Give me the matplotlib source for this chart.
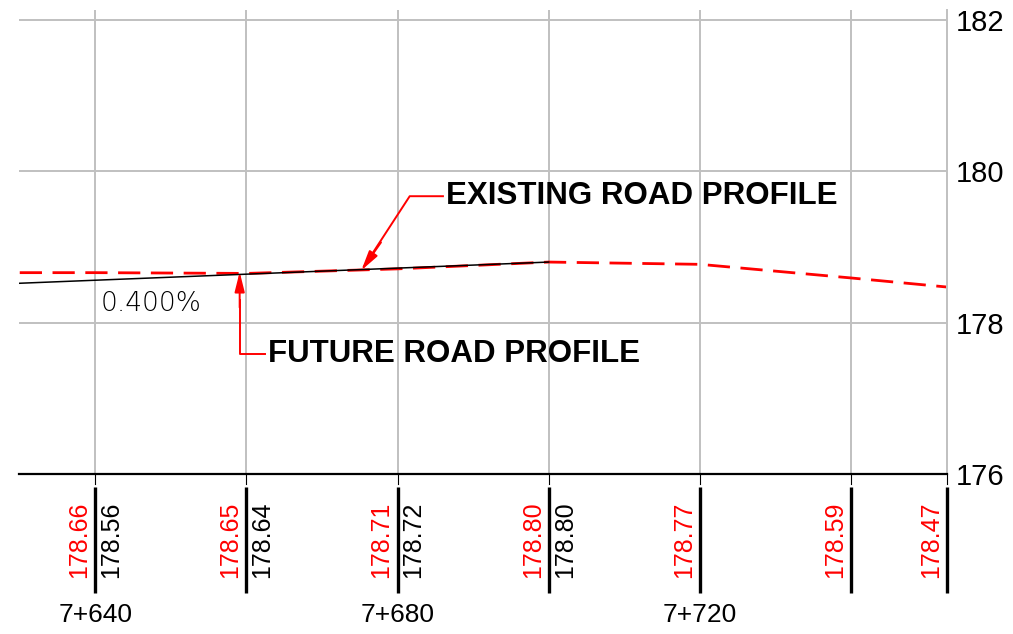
import matplotlib
matplotlib.use("Agg")
import matplotlib.pyplot as plt
import matplotlib.transforms as mtransforms

plt.rcParams['font.family'] = ['Liberation Sans', 'DejaVu Sans']

# stations (chainage in m) and elevations
ex_station = [7630, 7640, 7660, 7680, 7700, 7720, 7740, 7752.7]
ex_elev = [178.66, 178.66, 178.65, 178.71, 178.80, 178.77, 178.59, 178.47]
fut_station = [7630, 7640, 7660, 7680, 7700]
fut_elev = [178.52, 178.56, 178.64, 178.72, 178.80]

# labelled stations below the profile
lbl_station = [7640, 7660, 7680, 7700, 7720, 7740, 7752.7]
lbl_existing = ['178.66', '178.65', '178.71', '178.80', '178.77', '178.59', '178.47']
lbl_future = ['178.56', '178.64', '178.72', '178.80', '', '', '']
chainage_ticks = [7640, 7680, 7720]
grid_x = [7640, 7660, 7680, 7700, 7720, 7740]
elev_ticks = [176, 178, 180, 182]
grade_text = '0.400%'

W, H = 1013, 634
fig = plt.figure(figsize=(W / 100, H / 100), dpi=100)
ax = fig.add_axes([19 / W, (H - 474) / H, (947 - 19) / W, (474 - 10) / H])
ax.set_xlim(7629.9, 7752.7)
ax.set_ylim(176, 182.13)

grid_col = '#c0c0c0'
for x in grid_x:
    ax.axvline(x, color=grid_col, lw=1.4, zorder=0)
for y in elev_ticks[1:]:
    ax.axhline(y, color=grid_col, lw=1.4, zorder=0)

# profiles
ax.plot(fut_station, fut_elev, color='black', lw=1.1, zorder=3)
ax.plot(ex_station, ex_elev, color='red', lw=2.0, dashes=(8, 3.8), zorder=2)

ax.text(7640.7, 178.25, grade_text, fontsize=19, family='DejaVu Sans',
        fontweight='ultralight', color='black', ha='left', va='center')

# callouts
ax.plot([7686.0, 7681.6, 7675.6], [179.67, 179.67, 178.75], color='red', lw=1.4)
ax.annotate('', xy=(7675.2, 178.69), xytext=(7677.8, 179.06),
            arrowprops=dict(arrowstyle='-|>,head_length=1.2,head_width=0.3',
                            color='red', lw=1.4, shrinkA=0, shrinkB=0))
ax.text(7686.4, 179.67, 'EXISTING ROAD PROFILE', fontsize=22.5, fontweight='bold',
        ha='left', va='center')
ax.plot([7662.4, 7659.1, 7659.1], [177.59, 177.59, 178.3], color='red', lw=1.4)
ax.annotate('', xy=(7659.1, 178.67), xytext=(7659.1, 178.2),
            arrowprops=dict(arrowstyle='-|>,head_length=1.2,head_width=0.3',
                            color='red', lw=1.4, shrinkA=0, shrinkB=0))
ax.text(7662.8, 177.59, 'FUTURE ROAD PROFILE', fontsize=22.5, fontweight='bold',
        ha='left', va='center')

# axes styling
for s in ['left', 'top']:
    ax.spines[s].set_visible(False)
ax.spines['right'].set_color(grid_col)
ax.spines['right'].set_linewidth(1.4)
ax.spines['bottom'].set_color('black')
ax.spines['bottom'].set_linewidth(1.6)
ax.set_xticks([])
ax.yaxis.tick_right()
ax.set_yticks(elev_ticks)
ax.set_yticklabels([str(v) for v in elev_ticks])
ax.tick_params(axis='y', length=0, pad=6, labelsize=21)

# station band below the axis
trans = mtransforms.blended_transform_factory(ax.transData, ax.transAxes)
ah = 474 - 10
for st, r, b in zip(lbl_station, lbl_existing, lbl_future):
    ax.plot([st, st], [0, -10 / ah], color='black', lw=0.8, transform=trans, clip_on=False)
    ax.plot([st, st], [-13 / ah, -119 / ah], color='black', lw=2.4, transform=trans,
            clip_on=False, solid_capstyle='butt')
    ax.annotate(r, xy=(st, 0), xycoords=trans, xytext=(-4, -104), textcoords='offset pixels',
                rotation=90, color='red', fontsize=18, ha='right', va='bottom')
    if b:
        ax.annotate(b, xy=(st, 0), xycoords=trans, xytext=(4, -104), textcoords='offset pixels',
                    rotation=90, color='black', fontsize=18, ha='left', va='bottom')
for st in chainage_ticks:
    ax.annotate('7+%03d' % (st - 7000), xy=(st, 0), xycoords=trans, xytext=(0, -141),
                textcoords='offset pixels', fontsize=19, ha='center', va='center')

fig.savefig('out.png', dpi=100)
